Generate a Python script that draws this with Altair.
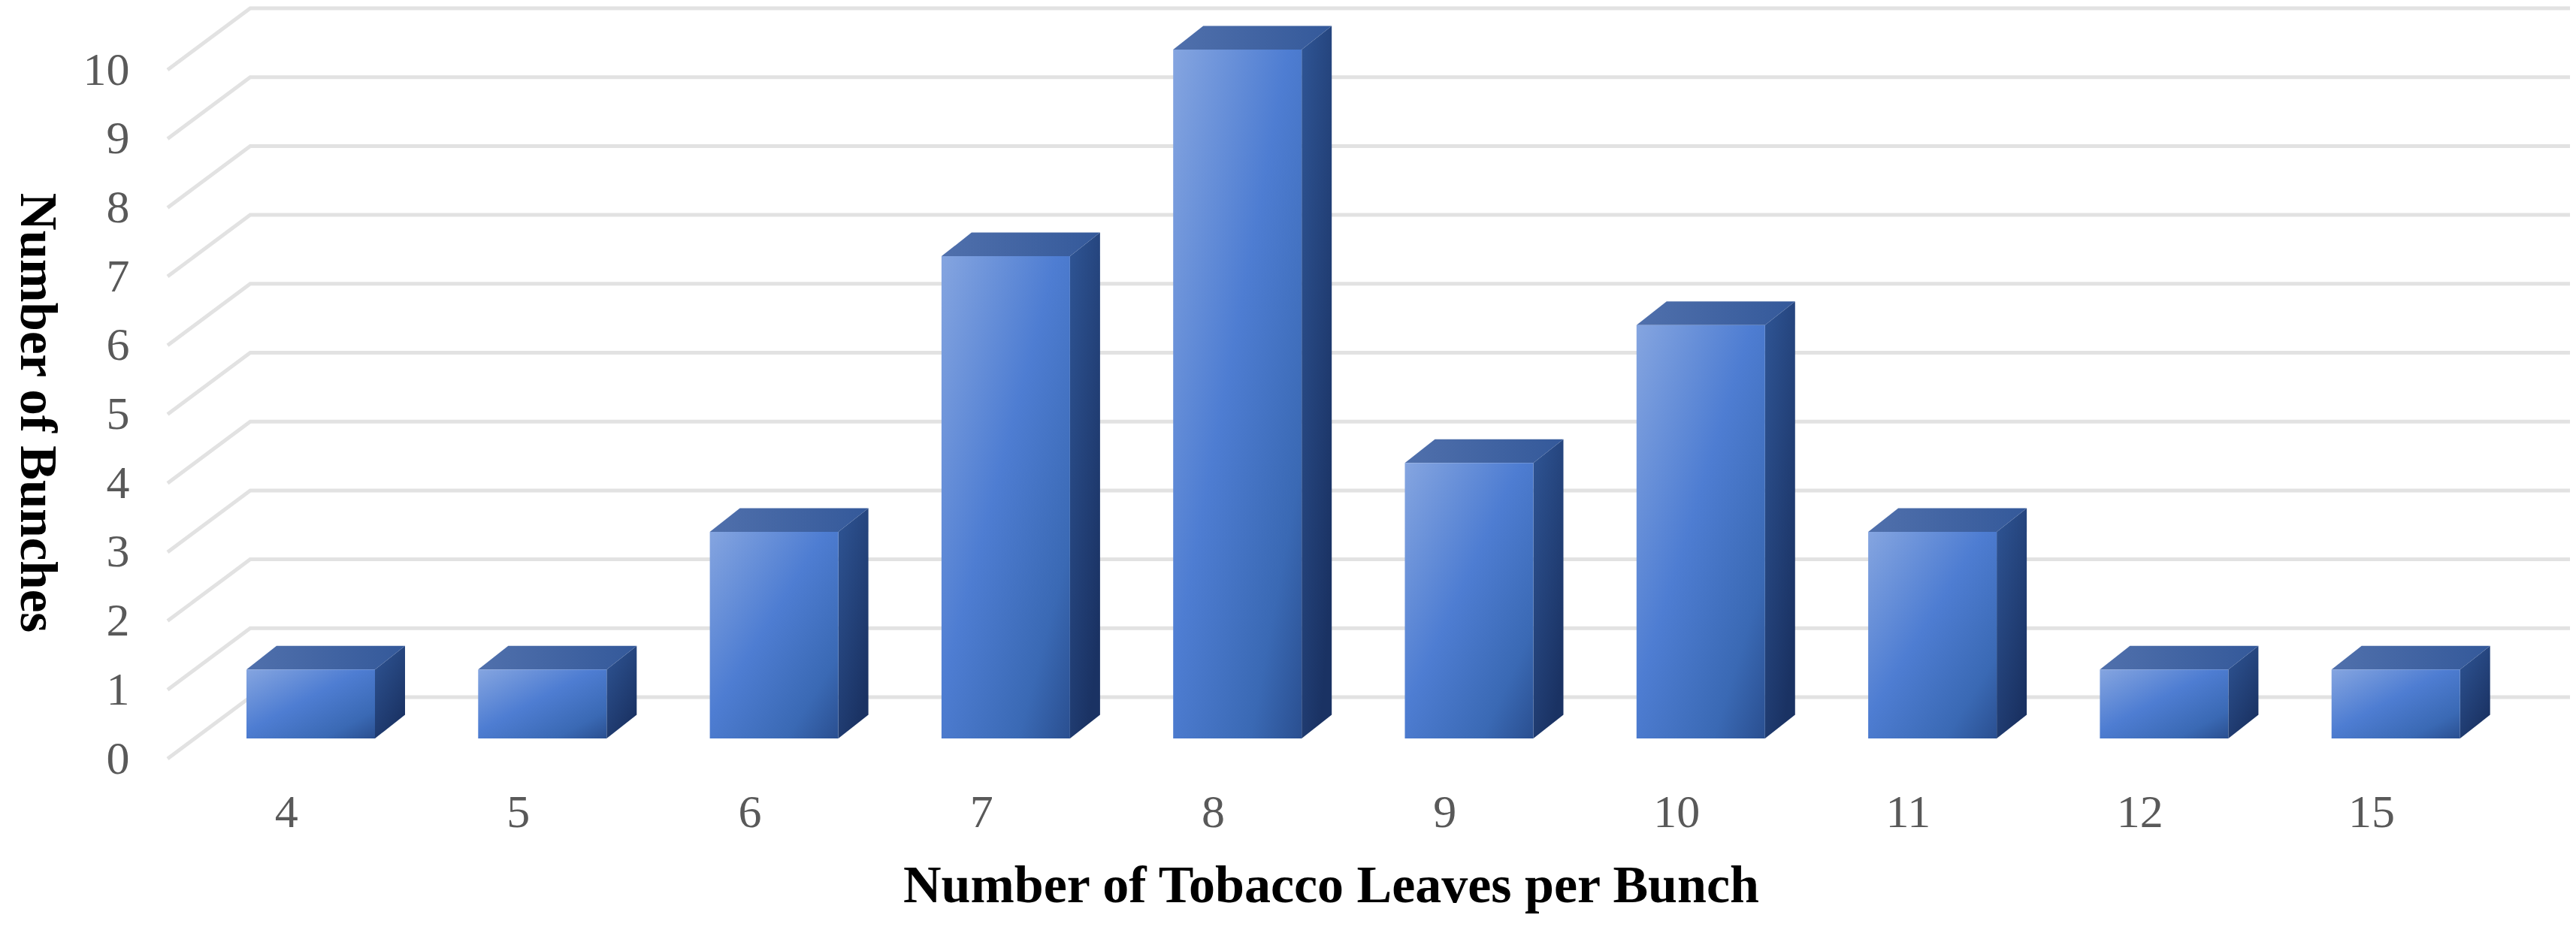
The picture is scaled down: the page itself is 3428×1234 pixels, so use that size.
import altair as alt
import pandas as pd

labels = ["4", "5", "6", "7", "8", "9", "10", "11", "12", "15"]
counts = [1, 1, 3, 7, 10, 4, 6, 3, 1, 1]
y_ticks = list(range(0, 11))

# layout constants, in scale units (1 x unit = one category, 1 y unit = one bunch)
PX_X, PX_Y = 308.3, 91.7
PLOT_W, PLOT_H = 3197, 999
BAR_LEFT, BAR_W = 105 / PX_X, 171 / PX_X
BASE = 27 / PX_Y
DX, DY = 40 / PX_X, 31.5 / PX_Y
GRID_DX, GRID_DY = 110 / PX_X, 82 / PX_Y
X_MAX = PLOT_W / PX_X
Y_MAX = PLOT_H / PX_Y
LABEL_C = 0.512

front, side, top, grid = [], [], [], []
for i, v in enumerate(counts):
    xl = BAR_LEFT + i
    xr = xl + BAR_W
    t = BASE + v
    front.append(dict(bar=i, x=xl, x2=xr, y=BASE, y2=t))
    side += [dict(bar=i, x=xr, lo=BASE, hi=t),
             dict(bar=i, x=xr + DX, lo=BASE + DY, hi=t + DY)]
    top += [dict(bar=i, x=xl, lo=t, hi=t),
            dict(bar=i, x=xl + DX, lo=t, hi=t + DY),
            dict(bar=i, x=xr, lo=t, hi=t + DY),
            dict(bar=i, x=xr + DX, lo=t + DY, hi=t + DY)]
for v in y_ticks:
    grid += [dict(v=v, o=0, x=0, y=v),
             dict(v=v, o=1, x=GRID_DX, y=v + GRID_DY),
             dict(v=v, o=2, x=X_MAX, y=v + GRID_DY)]

xs = alt.Scale(domain=[0, X_MAX], nice=False, zero=False)
ys = alt.Scale(domain=[0, Y_MAX], nice=False, zero=False)
FONT = "Liberation Serif"
label_js = "[" + ",".join(f"'{s}'" for s in labels) + "]"

grid_layer = alt.Chart(pd.DataFrame(grid)).mark_line(
    color="#E2E2E2", strokeWidth=5, strokeJoin="miter", clip=False
).encode(
    x=alt.X("x:Q", scale=xs, axis=alt.Axis(
        values=[LABEL_C + i for i in range(len(labels))],
        labelExpr=f"{label_js}[round(datum.value-{LABEL_C})]",
        title="Number of Tobacco Leaves per Bunch",
        titleFont=FONT, titleFontSize=70, titleFontWeight="bold", titleColor="#000000",
        titleX=1548, titleY=169, titleAlign="center", titleBaseline="middle",
        labelFont=FONT, labelFontSize=62, labelColor="#595959", labelPadding=41,
        labelFlush=False, labelOverlap=False, labelBaseline="top",
        domain=False, ticks=False, grid=False)),
    y=alt.Y("y:Q", scale=ys, axis=alt.Axis(
        values=y_ticks, format="d",
        title="Number of Bunches",
        titleFont=FONT, titleFontSize=69, titleFontWeight="bold", titleColor="#000000",
        titleAngle=90, titleX=-175, titleY=538, titleAlign="center", titleBaseline="middle",
        labelFont=FONT, labelFontSize=62, labelColor="#595959", labelPadding=51,
        labelOverlap=False, labelFlush=False,
        domain=False, ticks=False, grid=False)),
    detail="v:N",
    order="o:Q",
)

front_fill = alt.Gradient(
    gradient="linear", x1=0, y1=0, x2=1, y2=1,
    stops=[alt.GradientStop(offset=0, color="#85A5E0"),
           alt.GradientStop(offset=0.45, color="#4E7DD2"),
           alt.GradientStop(offset=0.8, color="#3A69B4"),
           alt.GradientStop(offset=1, color="#2A4F90")])
side_fill = alt.Gradient(
    gradient="linear", x1=0, y1=0, x2=0.6, y2=1,
    stops=[alt.GradientStop(offset=0, color="#2F5595"),
           alt.GradientStop(offset=1, color="#1A3263")])
top_fill = alt.Gradient(
    gradient="linear", x1=0, y1=0, x2=1, y2=0,
    stops=[alt.GradientStop(offset=0, color="#5070AC"),
           alt.GradientStop(offset=1, color="#34599A")])

front_layer = alt.Chart(pd.DataFrame(front)).mark_rect(color=front_fill).encode(
    x=alt.X("x:Q", scale=xs), x2="x2:Q",
    y=alt.Y("y:Q", scale=ys), y2="y2:Q", detail="bar:N")
side_layer = alt.Chart(pd.DataFrame(side)).mark_area(color=side_fill).encode(
    x=alt.X("x:Q", scale=xs), y=alt.Y("hi:Q", scale=ys), y2="lo:Q", detail="bar:N")
top_layer = alt.Chart(pd.DataFrame(top)).mark_area(color=top_fill).encode(
    x=alt.X("x:Q", scale=xs), y=alt.Y("hi:Q", scale=ys), y2="lo:Q", detail="bar:N")

chart = alt.layer(grid_layer, side_layer, top_layer, front_layer).properties(
    width=PLOT_W, height=PLOT_H,
    autosize=alt.AutoSizeParams(type="none"),
    padding={"left": 215, "top": 3, "right": 0, "bottom": 212},
    background="white",
).configure_view(stroke=None)

chart.save("out.html", embed_options={"renderer": "svg", "actions": False})
